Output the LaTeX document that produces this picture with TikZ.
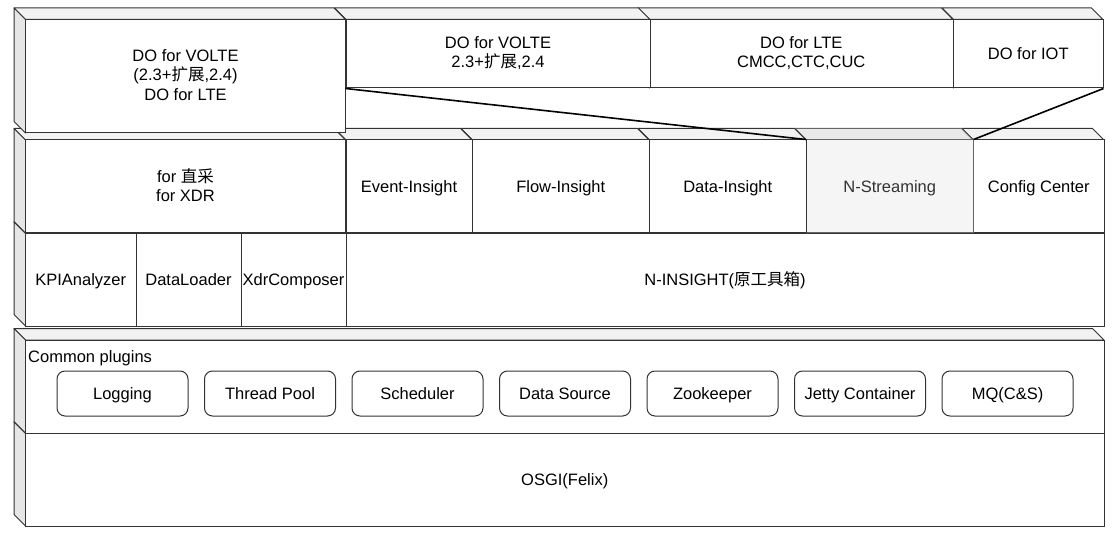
\documentclass[tikz,border=0pt]{standalone}
\usepackage{fontspec}
\setmainfont{Liberation Sans}
\newfontfamily\cjk{Noto Sans CJK SC}
\definecolor{edgec}{HTML}{333333}
\definecolor{topc}{HTML}{F2F2F2}
\definecolor{leftc}{HTML}{E6E6E6}
\definecolor{gfront}{HTML}{F5F5F5}
\definecolor{gtop}{HTML}{E9E9E9}
\definecolor{gleft}{HTML}{DDDDDD}
\definecolor{gedge}{HTML}{666666}
\definecolor{gtext}{HTML}{333333}
\def\dd{11.5}
\newcommand\vstrut{\rule[-3pt]{0pt}{18pt}}
\tikzset{
  txt/.style={font=\fontsize{16.5}{19.5}\selectfont,
    execute at begin node=\vstrut, execute at end node=\vstrut},
  normal top/.style={fill=topc,draw=edgec,line width=1pt,line join=round},
  normal left/.style={fill=leftc,draw=edgec,line width=1pt,line join=round},
  normal front/.style={fill=white,draw=edgec,line width=1pt,align=center,inner sep=0pt,txt},
  gray top/.style={fill=gtop,draw=gedge,line width=1pt,line join=round},
  gray left/.style={fill=gleft,draw=gedge,line width=1pt,line join=round},
  gray front/.style={fill=gfront,draw=gedge,line width=1pt,align=center,inner sep=0pt,
    text=gtext,txt},
  plug/.style={draw=edgec,fill=white,line width=1pt,rounded corners=8pt,
    minimum width=131pt,minimum height=45pt,inner sep=0pt,txt},
  label/.style={inner sep=0pt,txt},
  link/.style={draw=black,line width=1.6pt}
}
% name, x0, y0, x1, y1, text, kind
\newcommand\cubebox[7]{%
  \path[#7 top] (#2,#3) -- ({#4-\dd},#3) -- (#4,{#3+\dd}) -- ({#2+\dd},{#3+\dd}) -- cycle;
  \path[#7 left] (#2,#3) -- ({#2+\dd},{#3+\dd}) -- ({#2+\dd},#5) -- (#2,{#5-\dd}) -- cycle;
  \node[#7 front,minimum width={#4-#2-\dd},minimum height={#5-#3-\dd}]
    (#1) at ({(#2+\dd+#4)/2},{(#3+\dd+#5)/2}) {#6};
}
\begin{document}
\begin{tikzpicture}[x=1pt,y=-1pt]
\useasboundingbox (0,0) rectangle (1116,537);
% bottom layers
\cubebox{osgi}{14}{422}{1104}{526}{OSGI(Felix)}{normal}
\cubebox{common}{14}{328.5}{1104}{433}{}{normal}
\node[label,anchor=west] (cplab) at (28,357) {Common plugins};
\node[plug] (p1) at (122.5,393.5) {Logging};
\node[plug] (p2) at (270,393.5) {Thread Pool};
\node[plug] (p3) at (417.5,393.5) {Scheduler};
\node[plug] (p4) at (565,393.5) {Data Source};
\node[plug] (p5) at (712.5,393.5) {Zookeeper};
\node[plug] (p6) at (860,393.5) {Jetty Container};
\node[plug] (p7) at (1007.5,393.5) {MQ(C\&S)};
% middle lower row
\cubebox{ninsight}{334.5}{222}{1104}{326}{N-INSIGHT({\cjk 原工具箱})}{normal}
\cubebox{xdr}{229.5}{222}{346}{326}{XdrComposer}{normal}
\cubebox{loader}{124.5}{222}{241}{326}{DataLoader}{normal}
\cubebox{kpi}{14}{222}{136}{326}{KPIAnalyzer}{normal}
% middle upper row
\cubebox{config}{962}{128.5}{1104}{233}{Config Center}{normal}
\cubebox{nstream}{795}{128.5}{973}{233}{N-Streaming}{gray}
\cubebox{datai}{638}{128.5}{806}{233}{Data-Insight}{normal}
\cubebox{flowi}{461}{128.5}{649}{233}{Flow-Insight}{normal}
\cubebox{eventi}{334.5}{128.5}{472}{233}{Event-Insight}{normal}
\cubebox{direct}{14}{128.5}{345.5}{233}{for {\cjk 直采}\\for XDR}{normal}
% top row
\cubebox{doiot}{942}{8}{1103}{88}{DO for IOT}{normal}
\cubebox{dolte}{638}{8}{953}{88}{DO for LTE\\CMCC,CTC,CUC}{normal}
\cubebox{dovolte}{334.5}{8}{650}{88}{DO for VOLTE\\2.3+{\cjk 扩展},2.4}{normal}
\cubebox{domix}{14}{8}{345.5}{133}{DO for VOLTE\\(2.3+{\cjk 扩展},2.4)\\DO for LTE}{normal}
% connectors
\draw[link] (dovolte.south west) -- (nstream.north west);
\draw[link] (doiot.south east) -- (nstream.north east);
\end{tikzpicture}
\end{document}
